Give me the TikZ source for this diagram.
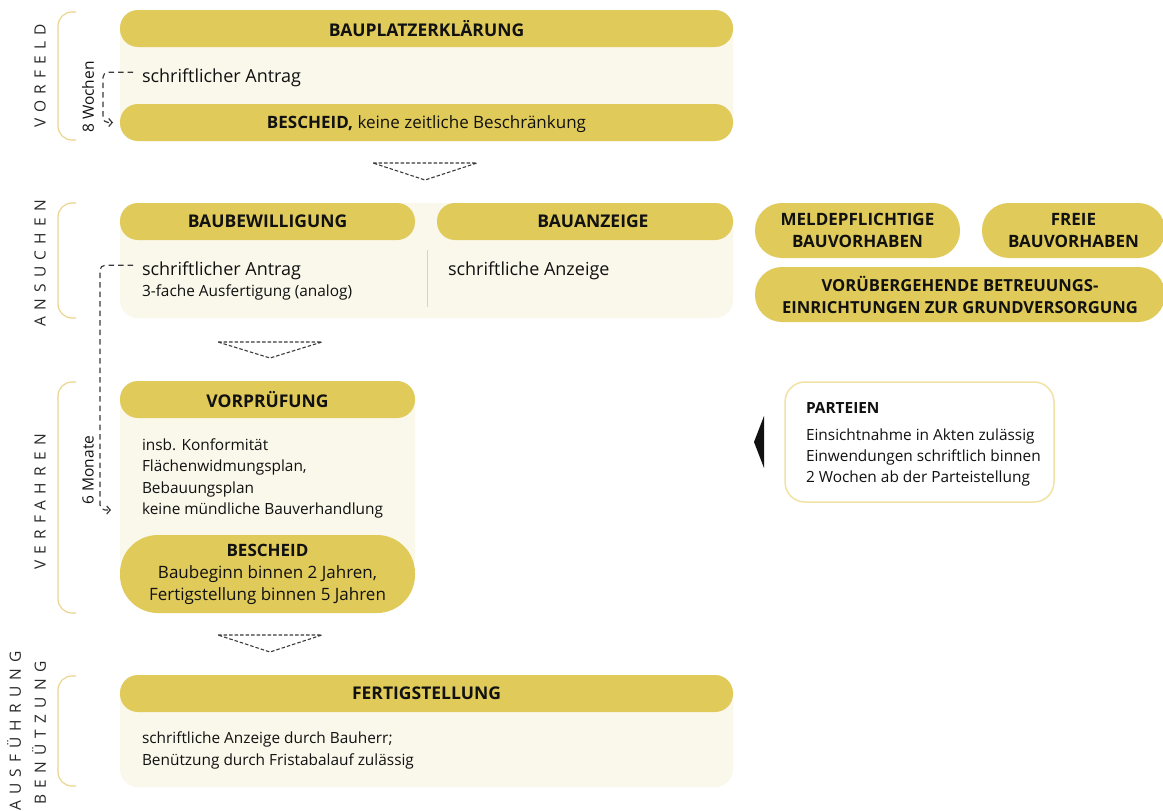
\documentclass[tikz,border=0pt]{standalone}
\usepackage{fontspec}
\setmainfont{Open Sans}
\newfontfamily\spaced[LetterSpace=40]{Open Sans}
\usetikzlibrary{arrows.meta}
\definecolor{pillc}{HTML}{E0CA5A}
\definecolor{creamc}{HTML}{FAF7EB}
\definecolor{bracec}{HTML}{EBD58E}
\definecolor{framec}{HTML}{EFE3A6}
\definecolor{inkc}{HTML}{111111}
\definecolor{dashc}{HTML}{3A3A3A}
\newcommand\headfont{\bfseries\fontsize{17.5}{21}\selectfont}

\begin{document}
\begin{tikzpicture}[x=1pt,y=-1pt,
  every node/.style={inner sep=0pt, outer sep=0pt, text=inkc},
  panel/.style={fill=creamc, rounded corners=18pt, anchor=north west},
  pill/.style={fill=pillc, rounded corners=18pt, anchor=north west, minimum height=37pt, font=\headfont},
  bigpill/.style={fill=pillc, rounded corners=27pt, anchor=north west, minimum height=55pt, align=center, font=\bfseries\fontsize{17}{22}\selectfont},
  body/.style={anchor=base west, font=\fontsize{18}{22}\selectfont},
  small/.style={anchor=base west, font=\fontsize{15.4}{18}\selectfont},
  brace/.style={draw=bracec, line width=1.2pt, rounded corners=14pt},
  sepline/.style={draw=bracec, line width=1pt},
  phase/.style={rotate=90, font=\spaced\fontsize{15.5}{18}\selectfont, text=inkc!90},
  span/.style={rotate=90, font=\fontsize{15.5}{18}\selectfont},
  dconn/.style={draw=dashc, line width=1.2pt, dash pattern=on 5.5pt off 4pt, rounded corners=5pt, -{Straight Barb[length=3.5pt,width=8pt,line width=1.2pt]}},
  tri/.style={draw=dashc, line width=1.1pt, dash pattern=on 3.5pt off 2pt}
]
\useasboundingbox (0,0) rectangle (1163,811);
\fill[white] (0,0) rectangle (1163,811);

% ---------- Vorfeld ----------
\node[panel, minimum width=613pt, minimum height=131pt] (p1) at (120,10) {};
\node[pill, minimum width=613pt] (h1) at (120,10) {BAUPLATZERKLÄRUNG};
\node[body] (ant1) at (142,82) {schriftlicher Antrag};
\node[pill, minimum width=613pt, text depth=0pt, font=\fontsize{17}{21}\selectfont] (b1) at (120,104) {\textbf{BESCHEID,} keine zeitliche Beschränkung};
\draw[brace] (76,12) -- (58,12) -- (58,140) -- (76,140);
\node[phase] (vf) at (40,76) {VORFELD};
\node[span] (w8) at (88,97) {8 Wochen};
\draw[dconn] ([xshift=-9pt,yshift=5pt]ant1.west) -| ([xshift=-17pt]b1.west) -- ([xshift=-7pt]b1.west);
\draw[tri] (373,163) -- (477,163) -- (425,180) -- cycle;

% ---------- Ansuchen ----------
\node[panel, minimum width=613pt, minimum height=115pt] (p2) at (120,203) {};
\node[pill, minimum width=295pt] (h2a) at (120,203) {BAUBEWILLIGUNG};
\node[pill, minimum width=296pt] (h2b) at (437,203) {};
\node[font=\headfont] (h2bt) at (593,221.5) {BAUANZEIGE};
\draw[sepline] (427,250) -- (427,307);
\node[body] (ant2) at (142,275) {schriftlicher Antrag};
\node[small] (ausf) at (142,296) {3-fache Ausfertigung (analog)};
\node[body] (anz) at (448,275) {schriftliche Anzeige};
\draw[brace] (76,203) -- (58,203) -- (58,318) -- (76,318);
\node[phase] (an) at (40,263) {ANSUCHEN};

\node[bigpill, minimum width=205pt] (mb) at (755,203) {MELDEPFLICHTIGE\\BAUVORHABEN};
\node[bigpill, minimum width=183pt] (fb) at (982,203) {FREIE\\BAUVORHABEN};
\node[bigpill, minimum width=410pt, font=\bfseries\fontsize{16.6}{22}\selectfont] (vb) at (755,267) {VORÜBERGEHENDE BETREUUNGS-\\EINRICHTUNGEN ZUR GRUNDVERSORGUNG};

\draw[tri] (218,342) -- (322,342) -- (270,358) -- cycle;

% ---------- Verfahren ----------
\node[panel, minimum width=295pt, minimum height=194pt] (p3) at (120,381) {};
\node[pill, minimum width=295pt] (h3) at (120,381) {VORPRÜFUNG};
\node[small] (l1) at (142,450) {insb. Konformität};
\node[small] (l2) at (142,471.5) {Flächenwidmungsplan,};
\node[small] (l3) at (142,493) {Bebauungsplan};
\node[small] (l4) at (142,514) {keine mündliche Bauverhandlung};
\node[fill=pillc, rounded corners=38pt, anchor=north west, minimum width=295pt, minimum height=78pt, align=center, font=\fontsize{17}{22}\selectfont] (b3) at (120,535) {\textbf{BESCHEID}\\Baubeginn binnen 2 Jahren,\\Fertigstellung binnen 5 Jahren\rule[-4pt]{0pt}{4pt}};
\draw[brace] (76,382) -- (58,382) -- (58,613) -- (76,613);
\node[phase] (vh) at (40,502) {VERFAHREN};
\node[span] (m6) at (88,470) {6 Monate};
\draw[dconn] ([xshift=-9pt,yshift=5pt]ant2.west) -| ([xshift=-42pt]l4.west) -- ([xshift=-31pt]l4.west);

\node[draw=framec, line width=1.5pt, fill=white, rounded corners=20pt, anchor=north west, minimum width=269pt, minimum height=120pt] (part) at (785,382) {};
\node[anchor=base west, font=\bfseries\fontsize{15.4}{18}\selectfont] (pt) at (806,413) {PARTEIEN};
\node[small] (q1) at (806,440) {Einsichtnahme in Akten zulässig};
\node[small] (q2) at (806,461) {Einwendungen schriftlich binnen};
\node[small] (q3) at (806,482) {2 Wochen ab der Parteistellung};
\fill[inkc] ([xshift=-31pt]part.west) -- ([xshift=-21pt,yshift=26pt]part.west) -- ([xshift=-21pt,yshift=-26pt]part.west) -- cycle;

\draw[tri] (218,635) -- (322,635) -- (270,652) -- cycle;

% ---------- Ausführung / Benützung ----------
\node[panel, minimum width=613pt, minimum height=112pt] (p4) at (120,675) {};
\node[pill, minimum width=613pt] (h4) at (120,675) {FERTIGSTELLUNG};
\node[small] (f1) at (142,743) {schriftliche Anzeige durch Bauherr;};
\node[small] (f2) at (142,765) {Benützung durch Fristabalauf zulässig};
\draw[brace] (76,676) -- (58,676) -- (58,786) -- (76,786);
\node[phase] (af) at (14,731) {AUSFÜHRUNG};
\node[phase] (bn) at (39,733) {BENÜTZUNG};
\end{tikzpicture}
\end{document}
